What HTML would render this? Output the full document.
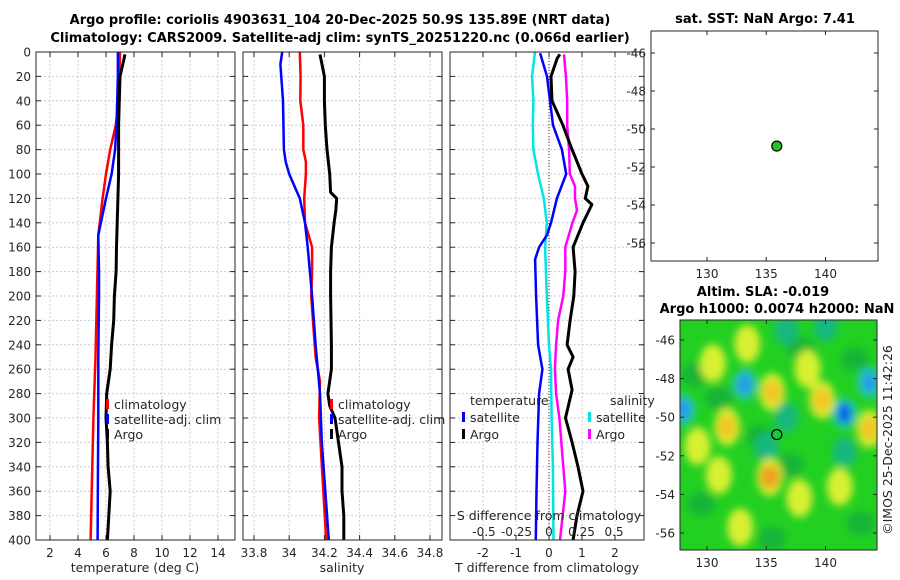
<!DOCTYPE html>
<html><head><meta charset="utf-8"><style>
html,body{margin:0;padding:0;background:#fff}
svg{display:block;font-family:"DejaVu Sans","Liberation Sans",sans-serif}
</style></head><body>
<svg id="fig" width="900" height="580" viewBox="0 0 900 580">
<defs>
<filter id="blur" x="-20%" y="-20%" width="140%" height="140%"><feGaussianBlur stdDeviation="4"/></filter>
<clipPath id="mapclip"><rect x="680" y="320" width="197" height="230"/></clipPath>
</defs>
<g id="root"></g>
</svg>
<script>
// ---- data ----
const depthTicks=[0,20,40,60,80,100,120,140,160,180,200,220,240,260,280,300,320,340,360,380,400];
const tempTicks=[2,4,6,8,10,12,14];
const salTicks=[33.8,34,34.2,34.4,34.6,34.8];
const salTickLabels=["33.8","34","34.2","34.4","34.6","34.8"];
const tdTicks=[-2,-1,0,1,2];
const sdTicks=[-0.5,-0.25,0,0.25,0.5];
const sdTickLabels=["-0.5","-0.25","0","0.25","0.5"];
const lonTicks=[130,135,140];
const latTicks=[-46,-48,-50,-52,-54,-56];

const tClimDepth=[0,20,40,60,80,100,120,150,200,250,300,350,400];
const tClimVal=[7.0,6.95,6.9,6.7,6.3,6.0,5.76,5.45,5.35,5.25,5.1,5.0,4.9];
const tSatDepth=[0,20,40,60,80,100,120,150,180,200,250,300,350,400];
const tSatVal=[6.85,6.85,6.8,6.75,6.65,6.4,6.0,5.45,5.5,5.5,5.45,5.45,5.42,5.4];
const tArgoDepth=[2,5,20,40,60,80,100,120,140,160,180,200,220,240,260,280,300,320,340,360,380,400];
const tArgoVal=[7.35,7.3,7.0,6.95,6.9,6.9,6.9,6.85,6.8,6.75,6.72,6.6,6.55,6.4,6.3,6.05,6.0,6.1,6.15,6.3,6.2,6.1];

const sClimDepth=[0,20,40,60,80,90,100,120,140,160,180,200,250,270,300,350,400];
const sClimVal=[34.06,34.065,34.063,34.08,34.08,34.095,34.095,34.085,34.09,34.13,34.13,34.125,34.15,34.175,34.17,34.19,34.21];
const sSatDepth=[0,10,40,80,90,100,110,120,140,160,200,240,280,320,400];
const sSatVal=[33.96,33.95,33.965,33.97,33.98,34.0,34.03,34.06,34.09,34.105,34.13,34.15,34.175,34.185,34.225];
const sArgoDepth=[2,20,40,60,80,100,115,120,130,140,160,180,200,240,260,280,290,300,320,340,360,380,400];
const sArgoVal=[34.175,34.2,34.2,34.205,34.215,34.23,34.235,34.27,34.265,34.255,34.24,34.235,34.235,34.24,34.24,34.22,34.23,34.26,34.28,34.3,34.3,34.31,34.31];

const dtSatDepth=[1,20,40,60,80,100,120,140,150,160,170,200,240,260,280,320,360,400];
const dtSatVal=[-0.27,-0.06,0.03,0.12,0.39,0.52,0.24,0.06,-0.06,-0.3,-0.42,-0.39,-0.33,-0.2,-0.3,-0.35,-0.38,-0.4];
const dtArgoDepth=[2,5,20,40,60,80,100,110,120,125,140,160,180,200,220,240,250,260,277,300,320,340,360,380,400];
const dtArgoVal=[0.33,0.25,0.06,0.09,0.42,0.7,1.0,1.18,1.1,1.3,1.03,0.73,0.79,0.75,0.64,0.55,0.73,0.58,0.7,0.5,0.7,0.88,1.03,0.85,0.73];
const dsSatDepth=[0,20,40,60,80,100,120,140,160,200,240,260,300,340,400];
const dsSatVal=[-0.108,-0.13,-0.12,-0.125,-0.12,-0.085,-0.04,-0.017,-0.03,-0.017,0,0.015,0.02,0.03,0.035];
const dsArgoDepth=[2,20,40,60,80,100,110,120,130,140,160,180,200,220,240,260,280,300,340,360,400];
const dsArgoVal=[0.115,0.13,0.14,0.14,0.155,0.16,0.2,0.2,0.215,0.18,0.125,0.125,0.11,0.07,0.055,0.045,0.055,0.08,0.11,0.125,0.085];

const floatLon=135.89, floatLat=-50.9;
const slaLon=[133.2,135.5,128.0,131.7,139.7,141.6,143.7,135.0,135.3,136.7,141.6,129.2,141.2,137.8,132.8,133.4,140.0,143.7,136.7,130.5,138.5,131.0];
const slaLat=[-48.3,-48.7,-49.6,-50.5,-49.1,-49.8,-50.6,-51.6,-53.1,-50.0,-51.8,-51.5,-53.6,-54.2,-55.7,-46.2,-45.3,-48.2,-45.5,-47.2,-47.5,-53.0];
const slaVal=[-0.9,0.8,-0.9,0.6,0.7,-1.0,0.7,-0.4,0.9,-0.4,-0.4,0.4,0.4,0.4,0.4,0.4,-0.3,-0.5,-0.3,0.3,0.3,0.3];
const darkLon=[129.0,134.5,138.0,142.5,131.0,137.0,129.5,143.0,135.5];
const darkLat=[-47.8,-51.0,-46.5,-47.0,-49.0,-52.5,-54.5,-55.5,-56.3];

// ---- helpers ----
const NS="http://www.w3.org/2000/svg";
const root=document.getElementById('root');
function mk(tag,attrs,parent){const e=document.createElementNS(NS,tag);for(const k in attrs)e.setAttribute(k,attrs[k]);(parent||root).appendChild(e);return e;}
function txt(x,y,s,attrs,parent){const e=mk('text',Object.assign({x:x,y:y,'font-size':12,fill:'#262626'},attrs||{}),parent);e.textContent=s;return e;}

const TOP=52,BOT=540;
const yD=d=>TOP+(BOT-TOP)*d/400;
const xT=v=>50+(v-2)*14;
const xS=v=>254+(v-33.8)*176;
const xDT=v=>549+v*33;
const xDS=v=>549+v*130;
const P1={x0:36,x1:235},P2={x0:243,x1:442},P3={x0:450,x1:644};

function panel(P,name,xticks,xf,labels){
  const g=mk('g',{});
  
  
  mk('rect',{x:P.x0,y:TOP,width:P.x1-P.x0,height:BOT-TOP,fill:'#fff'},g);
  depthTicks.forEach(d=>{mk('line',{x1:P.x0,x2:P.x1,y1:yD(d),y2:yD(d),stroke:'#c3cbe6','stroke-width':1,'stroke-dasharray':'2,2'},g);
    mk('line',{x1:P.x0,x2:P.x0+5,y1:yD(d),y2:yD(d),stroke:'#262626'},g);
    mk('line',{x1:P.x1,x2:P.x1-5,y1:yD(d),y2:yD(d),stroke:'#262626'},g);});
  xticks.forEach((v,i)=>{const x=xf(v);mk('line',{x1:x,x2:x,y1:TOP,y2:BOT,stroke:'#dcc8cc','stroke-width':1,'stroke-dasharray':'2,2'},g);
    mk('line',{x1:x,x2:x,y1:BOT,y2:BOT-5,stroke:'#262626'},g);mk('line',{x1:x,x2:x,y1:TOP,y2:TOP+5,stroke:'#262626'},g);
    const t=txt(x,557,labels?labels[i]:String(v),{'text-anchor':'middle'},g);
    
    });
  return g;
}
function frame(P,g){mk('rect',{x:P.x0,y:TOP,width:P.x1-P.x0,height:BOT-TOP,fill:'none',stroke:'#262626','stroke-width':1},g);}
function line(g,depths,vals,xf,color,w,name){
  const pts=depths.map((d,i)=>xf(vals[i]).toFixed(1)+','+yD(d).toFixed(1)).join(' ');
  const p=mk('polyline',{points:pts,fill:'none',stroke:color,'stroke-width':w,'stroke-linejoin':'round'},g);
  
  
}
function legendItem(g,x,y,color,label,name){
  mk('rect',{x:x,y:y-10,width:3,height:10,fill:color},g);
  const t=txt(x+8,y,label,{'font-size':12.5},g);
  
  
}

// panel 1
const g1=panel(P1,'temperature-panel',tempTicks,xT);
line(g1,tClimDepth,tClimVal,xT,'#ff0000',2.5,'temperature-climatology-line');
line(g1,tSatDepth,tSatVal,xT,'#0000ff',2.5,'temperature-satellite-line');
line(g1,tArgoDepth,tArgoVal,xT,'#000',3,'temperature-argo-line');
frame(P1,g1);
depthTicks.forEach(d=>{const t=txt(31,yD(d)+4.5,String(d),{'text-anchor':'end'});
  
  });
legendItem(g1,106,409,'#ff0000','climatology','legend-climatology');
legendItem(g1,106,424,'#0000ff','satellite-adj. clim','legend-satellite-adj');
legendItem(g1,106,439,'#000','Argo','legend-argo');
let t=txt(135,572,'temperature (deg C)',{'text-anchor':'middle','font-size':12.5});


// panel 2
const g2=panel(P2,'salinity-panel',salTicks,xS,salTickLabels);
line(g2,sClimDepth,sClimVal,xS,'#ff0000',2.5,'salinity-climatology-line');
line(g2,sSatDepth,sSatVal,xS,'#0000ff',2.5,'salinity-satellite-line');
line(g2,sArgoDepth,sArgoVal,xS,'#000',3,'salinity-argo-line');
frame(P2,g2);
legendItem(g2,330,409,'#ff0000','climatology','legend-climatology-2');
legendItem(g2,330,424,'#0000ff','satellite-adj. clim','legend-satellite-adj-2');
legendItem(g2,330,439,'#000','Argo','legend-argo-2');
t=txt(342,572,'salinity',{'text-anchor':'middle','font-size':12.5});


// panel 3
const g3=panel(P3,'difference-panel',tdTicks,xDT);
mk('line',{x1:549,x2:549,y1:TOP,y2:BOT,stroke:'#333','stroke-width':1,'stroke-dasharray':'1,2'},g3);
line(g3,dsSatDepth,dsSatVal,xDS,'#00e5e5',2.5,'salinity-diff-satellite-line');
line(g3,dtSatDepth,dtSatVal,xDT,'#0000ff',2.5,'temperature-diff-satellite-line');
line(g3,dsArgoDepth,dsArgoVal,xDS,'#ff00ff',2.5,'salinity-diff-argo-line');
line(g3,dtArgoDepth,dtArgoVal,xDT,'#000',3,'temperature-diff-argo-line');
frame(P3,g3);
t=txt(470,405,'temperature',{'font-size':12.5},g3);
legendItem(g3,462,422,'#0000ff','satellite','legend-temp-satellite');
legendItem(g3,462,439,'#000','Argo','legend-temp-argo');
t=txt(610,405,'salinity',{'font-size':12.5},g3);
legendItem(g3,588,422,'#00e5e5','satellite','legend-sal-satellite');
legendItem(g3,588,439,'#ff00ff','Argo','legend-sal-argo');
t=txt(549,520,'S difference from climatology',{'text-anchor':'middle','font-size':12.5},g3);

sdTicks.forEach((v,i)=>{const s=txt(xDS(v),536,sdTickLabels[i],{'text-anchor':'middle'},g3);
  });
t=txt(547,572,'T difference from climatology',{'text-anchor':'middle','font-size':12.5});


// titles
t=txt(340,24,'Argo profile: coriolis 4903631_104 20-Dec-2025 50.9S 135.89E (NRT data)',{'text-anchor':'middle','font-weight':'bold','font-size':13,fill:'#000'});

t=txt(340,42,'Climatology: CARS2009. Satellite-adj clim: synTS_20251220.nc (0.066d earlier)',{'text-anchor':'middle','font-weight':'bold','font-size':13,fill:'#000'});


// map helpers
const mx=l=>707+(l-130)*11.85;
function mapAxes(g,x0,y0,x1,y1,yf){
  mk('rect',{x:x0,y:y0,width:x1-x0,height:y1-y0,fill:'none',stroke:'#262626'},g);
  lonTicks.forEach(l=>{const x=mx(l);mk('line',{x1:x,x2:x,y1:y1,y2:y1-4,stroke:'#262626'},g);mk('line',{x1:x,x2:x,y1:y0,y2:y0+4,stroke:'#262626'},g);
    const s=txt(x,y1+17,String(l),{'text-anchor':'middle'},g);});
  latTicks.forEach(a=>{const y=yf(a);mk('line',{x1:x0,x2:x0+4,y1:y,y2:y,stroke:'#262626'},g);mk('line',{x1:x1,x2:x1-4,y1:y,y2:y,stroke:'#262626'},g);
    const s=txt(x0-5,y+4.5,String(a),{'text-anchor':'end'},g);});
}

// panel 4: SST map
const g4=mk('g',{});
const yA=a=>53+(-46-a)*19;
mapAxes(g4,651,31,878,261,yA);
const dot=mk('circle',{cx:mx(floatLon),cy:yA(floatLat),r:5,fill:'#22c322',stroke:'#000','stroke-width':1.2},g4);

t=txt(765,23,'sat. SST: NaN Argo: 7.41',{'text-anchor':'middle','font-weight':'bold','font-size':13,fill:'#000'});


// panel 5: SLA map
const g5=mk('g',{});
const yB=a=>340+(-46-a)*19.3;
const hm=mk('g',{'clip-path':'url(#mapclip)'},g5);
mk('rect',{x:680,y:320,width:197,height:230,fill:'#22d022'},hm);
const bl=mk('g',{filter:'url(#blur)'},hm);
darkLon.forEach((l,i)=>{const e=mk('ellipse',{cx:mx(l),cy:yB(darkLat[i]),rx:14,ry:12,fill:'#16b438'},bl);
  });
slaLon.forEach((l,i)=>{const v=slaVal[i];
  const cx=mx(l),cy=yB(slaLat[i]);
  if(v>0){
    const e=mk('ellipse',{cx:cx,cy:cy,rx:13,ry:19,fill:'#d8f030'},bl);
    
    if(v>0.55){const c=mk('ellipse',{cx:cx,cy:cy,rx:10,ry:12,fill:v>0.85?'#f0a020':'#f0c828'},bl);
      }
  }else{
    const e=mk('ellipse',{cx:cx,cy:cy,rx:12,ry:15,fill:v<-0.45?'#20c8c0':'#16b880'},bl);
    
    if(v<-0.45){const c=mk('ellipse',{cx:cx,cy:cy,rx:7,ry:10,fill:v<-0.95?'#1060e8':'#2898e8'},bl);
      }
  }});
mapAxes(g5,680,320,877,550,yB);
const ring=mk('circle',{cx:mx(floatLon),cy:yB(floatLat),r:5,fill:'none',stroke:'#000','stroke-width':1.2},g5);

t=txt(763,296,'Altim. SLA: -0.019',{'text-anchor':'middle','font-weight':'bold','font-size':13,fill:'#000'});

t=txt(777,313,'Argo h1000: 0.0074 h2000: NaN',{'text-anchor':'middle','font-weight':'bold','font-size':13,fill:'#000'});

t=txt(0,0,'©IMOS 25-Dec-2025 11:42:26',{'text-anchor':'middle','font-size':12.5,transform:'translate(892,440) rotate(-90)'});

</script>
</body></html>
